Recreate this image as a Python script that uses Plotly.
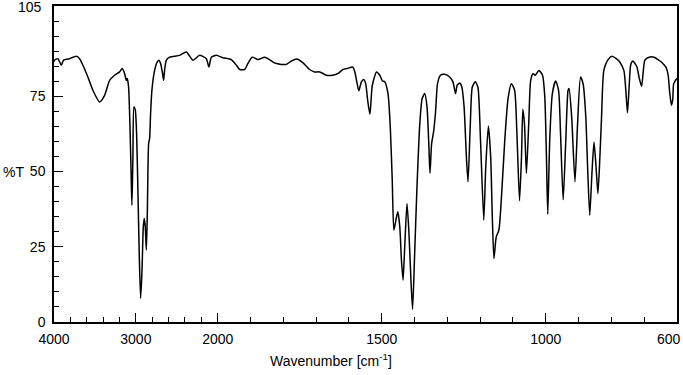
import plotly.graph_objects as go

# ---- data ----
WAVENUMBER = [
    4000, 3993, 3952, 3911, 3883, 3809, 3728, 3687, 3647, 3586, 3525, 3443, 3382, 3321,
    3260, 3199, 3166, 3137, 3117, 3105, 3089, 3073, 3056, 3048, 3036, 3024, 3007, 2991,
    2975, 2958, 2942, 2926, 2909, 2897, 2885, 2872, 2860, 2844, 2832, 2820, 2804, 2771,
    2738, 2718, 2698, 2677, 2661, 2649, 2628, 2588, 2466, 2384, 2303, 2221, 2139, 2108,
    2078, 2017,
    1984, 1959, 1943, 1933, 1918, 1908, 1895, 1877, 1857, 1842, 1827, 1806, 1791, 1776,
    1759, 1740, 1720, 1705, 1689, 1669, 1649, 1634, 1618, 1606, 1588, 1582, 1576, 1570,
    1562, 1555, 1549, 1543, 1536, 1529, 1516, 1506, 1498, 1491, 1481, 1474, 1468, 1463,
    1455, 1451, 1445, 1440, 1435, 1430, 1423, 1417, 1411, 1406, 1400, 1393, 1384, 1377,
    1369, 1362, 1357, 1353, 1348, 1342, 1336, 1330, 1321, 1308, 1293, 1283, 1275, 1270,
    1262, 1256, 1249, 1242, 1237, 1230, 1224, 1215, 1207, 1199, 1189, 1183, 1175, 1168,
    1163, 1158, 1151, 1143, 1135, 1125, 1115, 1105, 1095, 1088, 1080, 1074, 1070, 1065,
    1059, 1052, 1046, 1039, 1032, 1021, 1010, 1003, 998, 994, 988, 980, 970, 961,
    955, 947, 939, 932, 929, 921, 911, 903, 894, 886, 878, 872, 866, 859,
    853, 847, 841, 835, 830, 823, 810, 798, 785, 775, 762, 756, 751, 746,
    741, 734, 726, 722, 715, 708, 703, 698, 685, 668, 653, 643, 633, 627,
    622, 617, 613, 610, 600,
]
TRANSMITTANCE = [
    86.5, 87.0, 87.5, 85.3, 87.0, 87.5, 88.3, 87.5, 85.3, 81.4, 77.0, 73.1, 75.3, 80.3,
    82.0, 83.1, 84.2, 82.5, 80.3, 80.9, 78.1, 66.0, 47.1, 38.8, 54.9, 71.5, 70.4, 62.6,
    43.8, 21.7, 7.9, 16.2, 31.6, 34.4, 31.6, 23.9, 36.1, 59.3, 61.0, 69.3, 77.0, 83.6,
    86.4, 87.0, 85.9, 83.1, 80.3, 83.6, 87.0, 88.0, 88.6, 89.7, 87.0, 88.6, 87.5, 84.7,
    88.0, 88.6,
    87.8, 87.2, 85.3, 83.9, 83.9, 85.9, 88.0, 87.2, 88.0, 87.2, 86.1, 85.6, 85.6, 86.7,
    87.4, 86.1, 83.9, 83.1, 83.1, 82.0, 82.0, 82.5, 83.9, 84.2, 84.7, 83.1, 79.8, 76.8,
    79.8, 80.6, 79.2, 73.7, 69.0, 78.5, 83.1, 82.0, 80.1, 79.8, 75.9, 64.8, 47.1, 30.5,
    34.9, 36.6, 31.6, 20.6, 13.9, 25.0, 39.4, 29.4, 13.9, 4.2, 21.7, 43.8, 65.9, 74.2,
    75.9, 71.5, 60.4, 49.4, 59.3, 63.2, 69.8, 79.2, 82.0, 82.3, 81.4, 79.8, 75.9, 78.7,
    79.4, 78.1, 71.5, 54.9, 46.6, 65.9, 78.1, 79.8, 78.1, 60.4, 33.9, 51.5, 65.1, 54.9,
    34.9, 21.1, 28.3, 30.5, 41.6, 60.4, 74.2, 79.2, 77.0, 62.6, 40.3, 54.9, 70.7, 65.9,
    49.4, 65.9, 80.3, 82.5, 82.0, 83.6, 82.0, 74.8, 54.9, 35.8, 60.4, 75.9, 80.1, 77.0,
    62.6, 40.6, 60.4, 77.0, 77.6, 68.0, 46.6, 66.0, 81.4, 79.0, 68.1, 50.0, 35.5, 50.0,
    59.8, 52.0, 42.7, 55.0, 68.1, 83.6, 87.2, 88.3, 87.5, 86.5, 83.6, 77.0, 69.5, 78.0,
    85.5, 86.7, 85.5, 84.7, 81.0, 78.3, 83.0, 87.0, 88.0, 87.9, 86.8, 85.9, 84.5, 82.0,
    76.0, 72.0, 74.0, 79.2, 81.0,
]

X_TICK_LABELS = [4000, 3000, 2000, 1500, 1000, 600]
X_MINOR_TICKS = [3800, 3600, 3400, 3200, 2800, 2600, 2400, 2200,
                 1900, 1800, 1700, 1600, 1400, 1300, 1200, 1100, 900, 800, 700]
Y_TICK_LABELS = [0, 25, 50, 75, 105]
Y_MINOR_TICKS = [v for v in range(5, 101, 5) if v not in (25, 50, 75)]


# split wavenumber scale: 4000-2000 compressed, 2000-600 expanded 4x
def scale(w):
    if w >= 2000:
        return (4000 - w) * 0.08185
    return 163.7 + (2000 - w) * 0.328


xs = [scale(w) for w in WAVENUMBER]

fig = go.Figure()
fig.add_trace(go.Scatter(
    x=xs, y=TRANSMITTANCE, mode="lines",
    line=dict(color="black", width=1.5, shape="spline", smoothing=0.6),
    hoverinfo="skip", showlegend=False,
))

font = dict(family="Liberation Sans, Arial, sans-serif", size=14, color="black")

# edge labels (last x label, top y label) are placed as annotations so they stay inside the page
x_text = [str(v) for v in X_TICK_LABELS[:-1]] + [""]
y_text = [str(v) for v in Y_TICK_LABELS[:-1]] + [""]

fig.update_layout(
    width=683, height=375,
    margin=dict(l=54, r=6, t=6, b=53),
    paper_bgcolor="white", plot_bgcolor="white",
    font=font,
    xaxis=dict(
        range=[scale(4000), scale(600)],
        tickmode="array",
        tickvals=[scale(v) for v in X_TICK_LABELS],
        ticktext=x_text,
        ticks="inside", ticklen=9, tickwidth=1.2, tickcolor="black",
        minor=dict(tickmode="array", tickvals=[scale(v) for v in X_MINOR_TICKS],
                   ticks="inside", ticklen=5, tickwidth=1.2, tickcolor="black"),
        showline=True, linecolor="black", linewidth=1.5, mirror=True,
        showgrid=False, zeroline=False, ticklabelstandoff=3,
        ticklabeloverflow="allow", automargin=False,
    ),
    yaxis=dict(
        range=[0, 105],
        tickmode="array",
        tickvals=Y_TICK_LABELS,
        ticktext=y_text,
        ticks="inside", ticklen=9, tickwidth=1.2, tickcolor="black",
        minor=dict(tickmode="array", tickvals=Y_MINOR_TICKS,
                   ticks="inside", ticklen=5, tickwidth=1.2, tickcolor="black"),
        showline=True, linecolor="black", linewidth=1.5, mirror=True,
        showgrid=False, zeroline=False, ticklabelstandoff=4,
        ticklabeloverflow="allow", automargin=False,
    ),
    annotations=[
        dict(text="%T", xref="paper", yref="y", x=-0.085, y=50,
             xanchor="left", yanchor="middle", showarrow=False, font=font),
        dict(text="Wavenumber [cm<sup>-1</sup>]", xref="paper", yref="paper",
             x=0.445, y=-0.12, xanchor="center", yanchor="middle",
             showarrow=False, font=font),
        dict(text=str(X_TICK_LABELS[-1]), xref="paper", yref="paper",
             x=1.0096, y=-0.054, xanchor="right", yanchor="middle",
             showarrow=False, font=font),
        dict(text=str(Y_TICK_LABELS[-1]), xref="paper", yref="paper",
             x=-0.016, y=1.0285, xanchor="right", yanchor="top",
             showarrow=False, font=font),
    ],
)

fig.write_html("out.html", config={"displayModeBar": False},
               post_script="document.body.style.margin='0';"
               "document.body.style.overflow='hidden';")
